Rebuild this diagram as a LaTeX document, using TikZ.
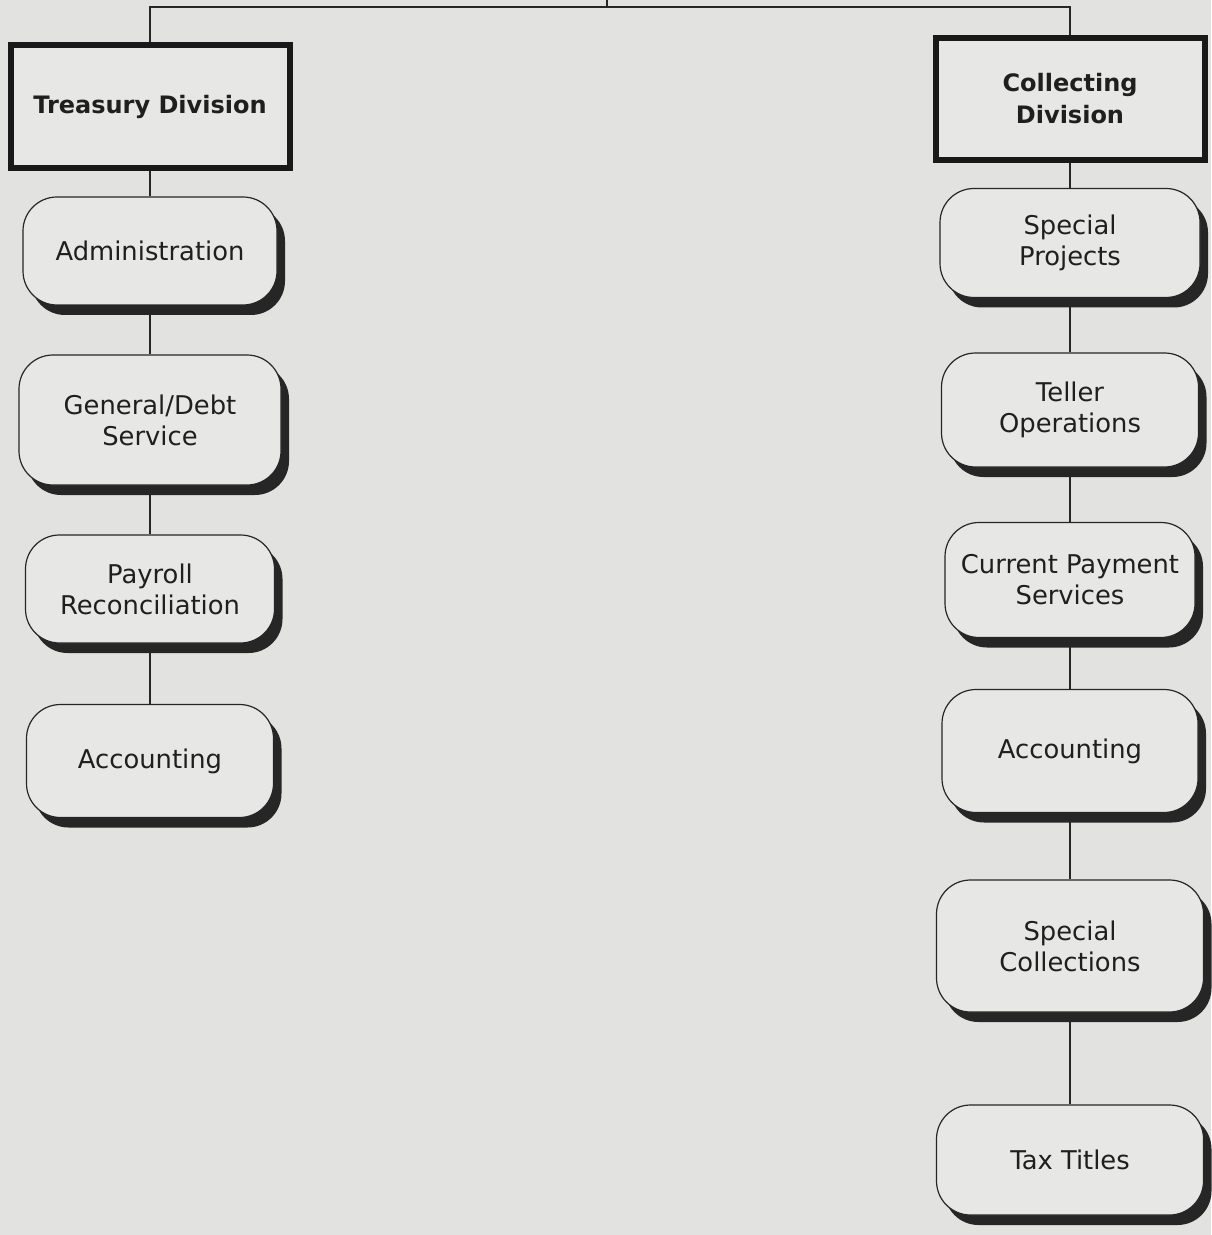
\documentclass[tikz,border=0pt]{standalone}
\usepackage{fontspec}
\setmainfont{DejaVu Sans}
\usepackage{tikz}
\usetikzlibrary{shapes.geometric, shadows, positioning}
\definecolor{paper}{RGB}{226,226,224}
\definecolor{boxfill}{RGB}{231,231,229}
\tikzstyle{division} = [rectangle, line width=3pt, align=center, draw=black!90, fill=boxfill, text=black!88, font=\fontsize{12}{16}\selectfont\bfseries, general shadow={fill=black!85, shadow xshift=1.5pt, shadow yshift=-1.5pt}]
\tikzstyle{unit} = [rectangle, rounded corners=17pt, line width=0.6pt, align=center, draw=black!85, fill=boxfill, text=black!88, font=\fontsize{12.9}{15.5}\selectfont, general shadow={fill=black!85, shadow xshift=4pt, shadow yshift=-5pt}]
\tikzstyle{link} = [line width=0.6pt, draw=black!85]

\begin{document}
\begin{tikzpicture}
            % Page
            \path[use as bounding box, fill=paper] (0,0) rectangle (605.5pt,-617.5pt);

            % Divisions
            \node (treasury) [division, minimum width=139.5pt, minimum height=61.5pt] at (75pt,-53.5pt) {Treasury Division};
            \node (collecting) [division, minimum width=134.5pt, minimum height=61pt] at (535pt,-49.5pt) {Collecting\\ Division};

            % Treasury units
            \node (admin) [unit, below of=treasury, node distance=72pt, minimum width=127pt, minimum height=54pt] {Administration};
            \node (gendebt) [unit, below of=admin, node distance=84.5pt, minimum width=131pt, minimum height=65pt] {General/Debt\\ Service};
            \node (payroll) [unit, below of=gendebt, node distance=84.5pt, minimum width=124.5pt, minimum height=54pt] {Payroll\\ Reconciliation};
            \node (accleft) [unit, below of=payroll, node distance=86pt, minimum width=123.5pt, minimum height=56.5pt] {Accounting};

            % Collecting units
            \node (specproj) [unit, below of=collecting, node distance=72pt, minimum width=130pt, minimum height=54.5pt] {Special\\ Projects};
            \node (teller) [unit, below of=specproj, node distance=83.5pt, minimum width=128.5pt, minimum height=57pt] {Teller\\ Operations};
            \node (curpay) [unit, below of=teller, node distance=85pt, minimum width=125pt, minimum height=57.5pt] {Current Payment\\ Services};
            \node (accright) [unit, below of=curpay, node distance=85.5pt, minimum width=128pt, minimum height=61.5pt] {Accounting};
            \node (speccoll) [unit, below of=accright, node distance=97.5pt, minimum width=133.5pt, minimum height=66pt] {Special\\ Collections};
            \node (taxtitles) [unit, below of=speccoll, node distance=107pt, minimum width=133.5pt, minimum height=55pt] {Tax Titles};

            % Edges
            \coordinate (topstub) at (303.5pt,0pt);
            \coordinate (topbar) at (303.5pt,-3.5pt);
            \draw [link] (topstub) -- (topbar);
            \draw [link] (treasury.north) |- (topbar) -| (collecting.north);

            \draw [link] (treasury) -- (admin);
            \draw [link] (admin) -- (gendebt);
            \draw [link] (gendebt) -- (payroll);
            \draw [link] (payroll) -- (accleft);

            \draw [link] (collecting) -- (specproj);
            \draw [link] (specproj) -- (teller);
            \draw [link] (teller) -- (curpay);
            \draw [link] (curpay) -- (accright);
            \draw [link] (accright) -- (speccoll);
            \draw [link] (speccoll) -- (taxtitles);

        \end{tikzpicture}
\end{document}
